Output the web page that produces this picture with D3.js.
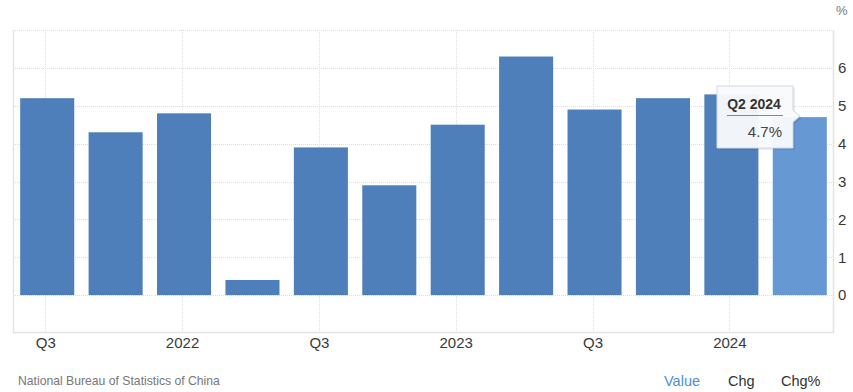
<!DOCTYPE html>
<html><head><meta charset="utf-8">
<script src="https://cdn.jsdelivr.net/npm/d3@7"></script>
<style>
html,body{margin:0;padding:0;background:#fff;}
svg{display:block;font-family:"Liberation Sans",Arial,sans-serif;}
</style></head>
<body><svg id="c" width="853" height="392"></svg>
<script>
const categories = ["Q3 2021","Q4 2021","Q1 2022","Q2 2022","Q3 2022","Q4 2022","Q1 2023","Q2 2023","Q3 2023","Q4 2023","Q1 2024","Q2 2024"];
const values = [5.2, 4.3, 4.8, 0.4, 3.9, 2.9, 4.5, 6.3, 4.9, 5.2, 5.3, 4.7];
const xTickCats = ["Q3 2021","Q1 2022","Q3 2022","Q1 2023","Q3 2023","Q1 2024"];
const xTickLabels = ["Q3","2022","Q3","2023","Q3","2024"];
const yTicks = [0,1,2,3,4,5,6];
const highlight = "Q2 2024";
const sourceText = "National Bureau of Statistics of China";
const footerLinks = ["Value","Chg","Chg%"];

const svg = d3.select("#c");
const L = 13, R = 834, T = 30, B = 333;
const x = d3.scaleBand().domain(categories).range([L, R]).paddingInner(0.21).paddingOuter(0.105);
const y = d3.scaleLinear().domain([-1, 7]).range([B, T]);

// horizontal grid
svg.append("g").selectAll("line").data(d3.range(0, 8)).join("line")
  .attr("x1", L).attr("x2", R)
  .attr("y1", d => Math.round(y(d)) + 0.5).attr("y2", d => Math.round(y(d)) + 0.5)
  .attr("stroke", "#dedede").attr("stroke-dasharray", "1,1");
// vertical grid
svg.append("g").selectAll("line").data(xTickCats).join("line")
  .attr("x1", d => Math.round(x(d) + x.bandwidth()/2) - 1.5).attr("x2", d => Math.round(x(d) + x.bandwidth()/2) - 1.5)
  .attr("y1", T).attr("y2", B)
  .attr("stroke", "#dedede").attr("stroke-dasharray", "1,1");
// frame
svg.append("path").attr("d", `M${L+0.5},${T}V${B-0.5}H${R-0.5}V${T}`)
  .attr("fill", "none").attr("stroke", "#e3e3e3").attr("stroke-width", 1.5);

// bars
svg.append("g").selectAll("rect").data(categories).join("rect")
  .attr("x", d => x(d)).attr("width", x.bandwidth())
  .attr("y", (d, i) => y(values[i])).attr("height", (d, i) => y(0) - y(values[i]))
  .attr("fill", d => d === highlight ? "#6699d4" : "#4e7fbb");

// y axis labels
const yAxis = d3.axisRight(y).tickValues(yTicks).tickSize(0).tickPadding(0);
const ya = svg.append("g").attr("transform", `translate(838,0)`).call(yAxis);
ya.select(".domain").remove();
ya.selectAll("text").attr("font-size", 15).attr("fill", "#3a3a3a").attr("font-family", "Liberation Sans, Arial, sans-serif");
svg.append("text").attr("x", 836).attr("y", 15).attr("font-size", 13).attr("fill", "#777").text("%");

// x axis labels
const labelMap = new Map(xTickCats.map((c, i) => [c, xTickLabels[i]]));
const xAxis = d3.axisBottom(x).tickValues(xTickCats).tickFormat(d => labelMap.get(d)).tickSize(0).tickPadding(0);
const xa = svg.append("g").attr("transform", `translate(-1.5,337)`).call(xAxis);
xa.select(".domain").remove();
xa.selectAll("text").attr("font-size", 15).attr("fill", "#3a3a3a").attr("font-family", "Liberation Sans, Arial, sans-serif");

// tooltip
const hi = categories.indexOf(highlight);
const tipX = 717, tipY = 86, tipW = 76, tipH = 62;
const ax = x(highlight) - 4, ay = y(values[hi]) - 1;
const tip = svg.append("g");
tip.append("path")
  .attr("d", `M${tipX+2},${tipY+2} h${tipW} v${ay - tipY - 6} l7,6 l-7,6 V${tipY+tipH+2} h${-tipW} Z`)
  .attr("fill", "rgba(0,0,0,0.08)");
tip.append("path")
  .attr("d", `M${tipX},${tipY} h${tipW} v${ay - tipY - 6} l7,6 l-7,6 V${tipY+tipH} h${-tipW} Z`)
  .attr("fill", "rgba(248,250,252,0.96)").attr("stroke", "#cfd8e3").attr("stroke-width", 1);
tip.append("text").attr("x", tipX + tipW/2 - 1).attr("y", tipY + 23).attr("text-anchor", "middle")
  .attr("font-size", 14).attr("font-weight", "bold").attr("fill", "#333").text(highlight);
tip.append("line").attr("x1", tipX + 10).attr("x2", tipX + tipW - 10)
  .attr("y1", tipY + 29.5).attr("y2", tipY + 29.5).attr("stroke", "#888").attr("stroke-width", 1);
tip.append("text").attr("x", tipX + tipW - 11).attr("y", tipY + 51).attr("text-anchor", "end")
  .attr("font-size", 15).attr("fill", "#444").text(values[hi] + "%");

// footer
svg.append("text").attr("x", 18).attr("y", 385).attr("font-size", 12.2).attr("fill", "#777").text(sourceText);
const fx = [664, 728, 781];
svg.append("g").selectAll("text").data(footerLinks).join("text")
  .attr("x", (d, i) => fx[i]).attr("y", 386).attr("font-size", 14.5)
  .attr("fill", (d, i) => i === 0 ? "#4a90d9" : "#333").text(d => d);
</script></body></html>
